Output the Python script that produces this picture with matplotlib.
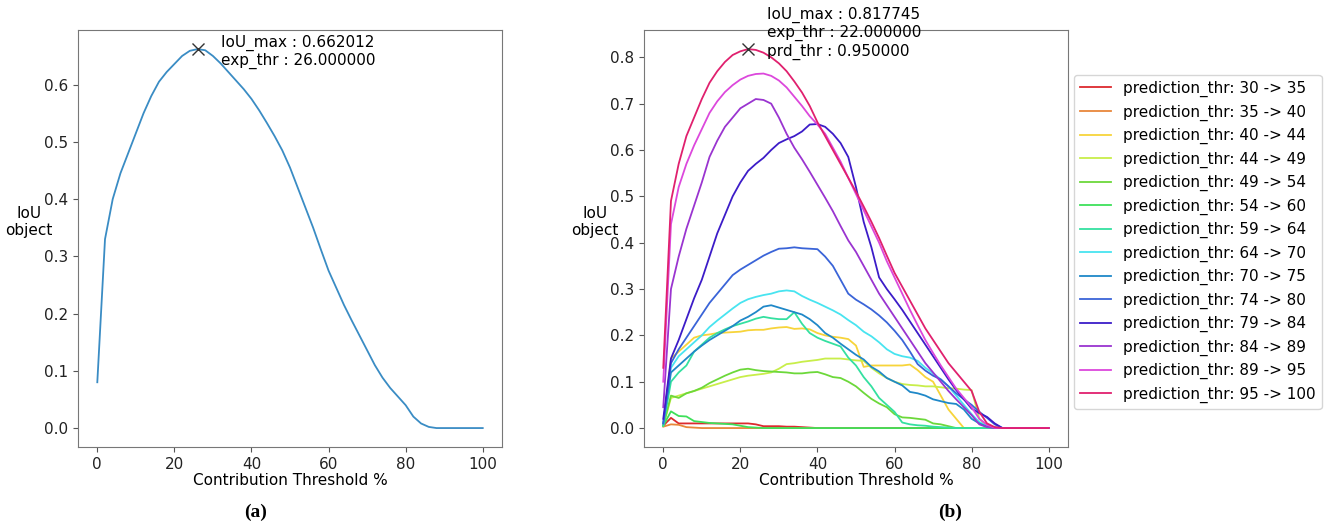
import matplotlib
matplotlib.use("Agg")
import matplotlib.pyplot as plt
import numpy as np

# contribution thresholds (%) shared by every curve
thresholds = np.arange(0, 101, 2)

# (a) single curve
iou_single = [0.08, 0.33, 0.40, 0.445, 0.48, 0.515, 0.55, 0.58, 0.605, 0.622,
              0.636, 0.65, 0.659, 0.662, 0.66, 0.65, 0.637, 0.622, 0.607, 0.592,
              0.575, 0.555, 0.533, 0.51, 0.485, 0.455, 0.42, 0.385, 0.35, 0.312,
              0.275, 0.245, 0.215, 0.188, 0.162, 0.136, 0.11, 0.088, 0.07, 0.055,
              0.04, 0.02, 0.008, 0.002, 0.0, 0.0, 0.0, 0.0, 0.0, 0.0, 0.0]
max_a = (26, 0.662012)

# (b) one curve per prediction threshold band
bands = ["30 -> 35", "35 -> 40", "40 -> 44", "44 -> 49", "49 -> 54", "54 -> 60",
         "59 -> 64", "64 -> 70", "70 -> 75", "74 -> 80", "79 -> 84", "84 -> 89",
         "89 -> 95", "95 -> 100"]

iou_30 = [0.005, 0.022, 0.01, 0.01, 0.01, 0.01, 0.01, 0.01, 0.01, 0.01,
          0.01, 0.01, 0.008, 0.004, 0.004, 0.004, 0.003, 0.003, 0.002, 0.001,
          0, 0, 0, 0, 0, 0, 0, 0, 0, 0, 0, 0, 0, 0, 0, 0, 0, 0, 0, 0,
          0, 0, 0, 0, 0, 0, 0, 0, 0, 0, 0]
iou_35 = [0.003, 0.008, 0.007, 0.002, 0.001, 0, 0, 0, 0, 0,
          0, 0, 0, 0, 0, 0, 0, 0, 0, 0, 0, 0, 0, 0, 0, 0, 0, 0, 0, 0,
          0, 0, 0, 0, 0, 0, 0, 0, 0, 0, 0, 0, 0, 0, 0, 0, 0, 0, 0, 0, 0]
iou_40 = [0.005, 0.15, 0.165, 0.18, 0.195, 0.2, 0.202, 0.205, 0.206, 0.207,
          0.208, 0.211, 0.212, 0.212, 0.215, 0.217, 0.218, 0.214, 0.215, 0.213,
          0.205, 0.2, 0.197, 0.195, 0.192, 0.178, 0.132, 0.135, 0.135, 0.135,
          0.135, 0.135, 0.137, 0.125, 0.11, 0.1, 0.07, 0.04, 0.02, 0.0,
          0, 0, 0, 0, 0, 0, 0, 0, 0, 0, 0]
iou_44 = [0.005, 0.065, 0.07, 0.075, 0.08, 0.085, 0.09, 0.095, 0.1, 0.105,
          0.11, 0.113, 0.115, 0.117, 0.12, 0.128, 0.138, 0.14, 0.143, 0.145,
          0.147, 0.15, 0.15, 0.15, 0.148, 0.146, 0.145, 0.13, 0.118, 0.108,
          0.1, 0.095, 0.093, 0.092, 0.09, 0.09, 0.088, 0.086, 0.085, 0.083,
          0.082, 0.02, 0.005, 0.001, 0, 0, 0, 0, 0, 0, 0]
iou_49 = [0.005, 0.07, 0.065, 0.075, 0.08, 0.087, 0.097, 0.105, 0.113, 0.12,
          0.126, 0.128, 0.125, 0.123, 0.122, 0.121, 0.12, 0.118, 0.118, 0.12,
          0.121, 0.116, 0.11, 0.108, 0.1, 0.09, 0.076, 0.063, 0.053, 0.045,
          0.03, 0.023, 0.022, 0.02, 0.018, 0.01, 0.008, 0.004, 0, 0,
          0, 0, 0, 0, 0, 0, 0, 0, 0, 0, 0]
iou_54 = [0.005, 0.036, 0.026, 0.025, 0.015, 0.013, 0.011, 0.01, 0.009, 0.008,
          0.005, 0.002, 0.001, 0, 0, 0, 0, 0, 0, 0, 0, 0, 0, 0, 0, 0, 0, 0, 0, 0,
          0, 0, 0, 0, 0, 0, 0, 0, 0, 0, 0, 0, 0, 0, 0, 0, 0, 0, 0, 0, 0]
iou_59 = [0.005, 0.1, 0.12, 0.135, 0.165, 0.18, 0.195, 0.205, 0.213, 0.22,
          0.225, 0.23, 0.236, 0.24, 0.237, 0.235, 0.235, 0.25, 0.225, 0.205,
          0.195, 0.188, 0.182, 0.176, 0.152, 0.135, 0.11, 0.09, 0.065, 0.05,
          0.035, 0.012, 0.008, 0.006, 0.005, 0.003, 0.002, 0.001, 0, 0,
          0, 0, 0, 0, 0, 0, 0, 0, 0, 0, 0]
iou_64 = [0.01, 0.13, 0.155, 0.17, 0.185, 0.2, 0.218, 0.232, 0.245, 0.258,
          0.27, 0.278, 0.283, 0.287, 0.29, 0.295, 0.297, 0.295, 0.285, 0.277,
          0.27, 0.262, 0.254, 0.245, 0.233, 0.222, 0.208, 0.198, 0.185, 0.17,
          0.16, 0.155, 0.152, 0.145, 0.13, 0.118, 0.105, 0.09, 0.07, 0.05,
          0.03, 0.013, 0.004, 0.001, 0, 0, 0, 0, 0, 0, 0]
iou_70 = [0.01, 0.12, 0.135, 0.15, 0.165, 0.178, 0.19, 0.2, 0.21, 0.22,
          0.232, 0.24, 0.25, 0.262, 0.265, 0.26, 0.255, 0.25, 0.245, 0.235,
          0.222, 0.205, 0.195, 0.182, 0.17, 0.158, 0.148, 0.132, 0.122, 0.108,
          0.1, 0.092, 0.078, 0.075, 0.07, 0.062, 0.058, 0.054, 0.052, 0.04,
          0.02, 0.01, 0.003, 0.001, 0, 0, 0, 0, 0, 0, 0]
iou_74 = [0.01, 0.14, 0.17, 0.195, 0.22, 0.245, 0.27, 0.29, 0.31, 0.33,
          0.342, 0.352, 0.362, 0.372, 0.38, 0.387, 0.388, 0.39, 0.388, 0.387,
          0.386, 0.37, 0.35, 0.32, 0.29, 0.277, 0.267, 0.256, 0.243, 0.228,
          0.21, 0.19, 0.165, 0.138, 0.124, 0.113, 0.105, 0.09, 0.075, 0.062,
          0.05, 0.035, 0.022, 0.008, 0, 0, 0, 0, 0, 0, 0]
iou_79 = [0.02, 0.15, 0.19, 0.235, 0.28, 0.32, 0.37, 0.42, 0.46, 0.5,
          0.53, 0.555, 0.57, 0.583, 0.6, 0.615, 0.623, 0.63, 0.64, 0.655,
          0.656, 0.65, 0.635, 0.615, 0.585, 0.52, 0.445, 0.39, 0.325, 0.3,
          0.278, 0.255, 0.23, 0.205, 0.18, 0.155, 0.13, 0.105, 0.082, 0.062,
          0.042, 0.032, 0.024, 0.01, 0, 0, 0, 0, 0, 0, 0]
iou_84 = [0.045, 0.3, 0.37, 0.43, 0.48, 0.53, 0.585, 0.62, 0.65, 0.67,
          0.69, 0.7, 0.71, 0.708, 0.7, 0.67, 0.635, 0.605, 0.58, 0.553,
          0.525, 0.497, 0.468, 0.436, 0.405, 0.38, 0.35, 0.32, 0.29, 0.265,
          0.24, 0.215, 0.19, 0.165, 0.14, 0.12, 0.1, 0.08, 0.062, 0.045,
          0.028, 0.008, 0.002, 0, 0, 0, 0, 0, 0, 0, 0]
iou_89 = [0.1, 0.44, 0.52, 0.57, 0.61, 0.645, 0.68, 0.705, 0.725, 0.74,
          0.752, 0.76, 0.764, 0.765, 0.76, 0.75, 0.735, 0.715, 0.695, 0.673,
          0.655, 0.635, 0.605, 0.575, 0.54, 0.505, 0.47, 0.435, 0.4, 0.36,
          0.325, 0.29, 0.255, 0.222, 0.19, 0.162, 0.135, 0.11, 0.085, 0.065,
          0.045, 0.02, 0.007, 0.001, 0, 0, 0, 0, 0, 0, 0]
iou_95 = [0.13, 0.49, 0.57, 0.63, 0.67, 0.71, 0.745, 0.77, 0.79, 0.805,
          0.813, 0.817745, 0.816, 0.81, 0.8, 0.787, 0.77, 0.748, 0.724, 0.695,
          0.66, 0.63, 0.6, 0.57, 0.54, 0.51, 0.478, 0.445, 0.41, 0.372,
          0.335, 0.305, 0.275, 0.245, 0.215, 0.19, 0.165, 0.14, 0.12, 0.1,
          0.08, 0.035, 0.01, 0.002, 0, 0, 0, 0, 0, 0, 0]
max_b = (22, 0.817745)

curves = [iou_30, iou_35, iou_40, iou_44, iou_49, iou_54, iou_59,
          iou_64, iou_70, iou_74, iou_79, iou_84, iou_89, iou_95]
colors = ["#dc2a2e", "#e8873a", "#f7d43a", "#c8ee4a", "#6cd83a", "#3ee05a",
          "#34e0a0", "#48e4f0", "#1f88c8", "#3a64d8", "#3c1cc8", "#9a34d0",
          "#dc48dc", "#e0206e"]

plt.rcParams["font.family"] = "DejaVu Sans"
plt.rcParams["font.size"] = 11

fig = plt.figure(figsize=(13.27, 5.29), dpi=100)
ax_a = fig.add_axes([0.0588, 0.155, 0.3195, 0.788])
ax_b = fig.add_axes([0.4853, 0.155, 0.3195, 0.788])

ax_a.plot(thresholds, iou_single, color="#3a8cc4", lw=1.3)
ax_a.plot(*max_a, marker="x", color="#333333", ms=8, mew=1.0)
ax_a.text(32, 0.657, "IoU_max : %f\nexp_thr : %f" % (max_a[1], max_a[0]),
          va="center", ha="left", fontsize=11)

for vals, col, band in zip(curves, colors, bands):
    ax_b.plot(thresholds, vals, color=col, lw=1.3, label="prediction_thr: " + band)
ax_b.plot(*max_b, marker="x", color="#333333", ms=8, mew=1.0)
ax_b.text(27, 0.852, "IoU_max : %f\nexp_thr : %f\nprd_thr : %f" % (max_b[1], max_b[0], 0.95),
          va="center", ha="left", fontsize=11, clip_on=False)

for ax in (ax_a, ax_b):
    ax.set_xticks([0, 20, 40, 60, 80, 100])
    ax.set_xlabel("Contribution Threshold %", labelpad=1)
    ax.set_ylabel("IoU\nobject", rotation=0, ha="center", va="center")
    ax.yaxis.set_label_coords(-0.115, 0.54)
    for sp in ax.spines.values():
        sp.set_color("#777777")
    ax.tick_params(colors="#222222", color="#555555")

ax_a.set_yticks([0.0, 0.1, 0.2, 0.3, 0.4, 0.5, 0.6])
ax_b.set_yticks([0.0, 0.1, 0.2, 0.3, 0.4, 0.5, 0.6, 0.7, 0.8])

ax_b.legend(loc="center left", bbox_to_anchor=(1.014, 0.492), fontsize=11,
            frameon=True, borderaxespad=0.0, labelspacing=0.48)

fig.text(256 / 1327, 1 - 512 / 529, "(a)", ha="center", va="center",
         family="Liberation Serif", fontweight="bold", fontsize=14)
fig.text(950 / 1327, 1 - 512 / 529, "(b)", ha="center", va="center",
         family="Liberation Serif", fontweight="bold", fontsize=14)

fig.savefig("out.png", dpi=100)
